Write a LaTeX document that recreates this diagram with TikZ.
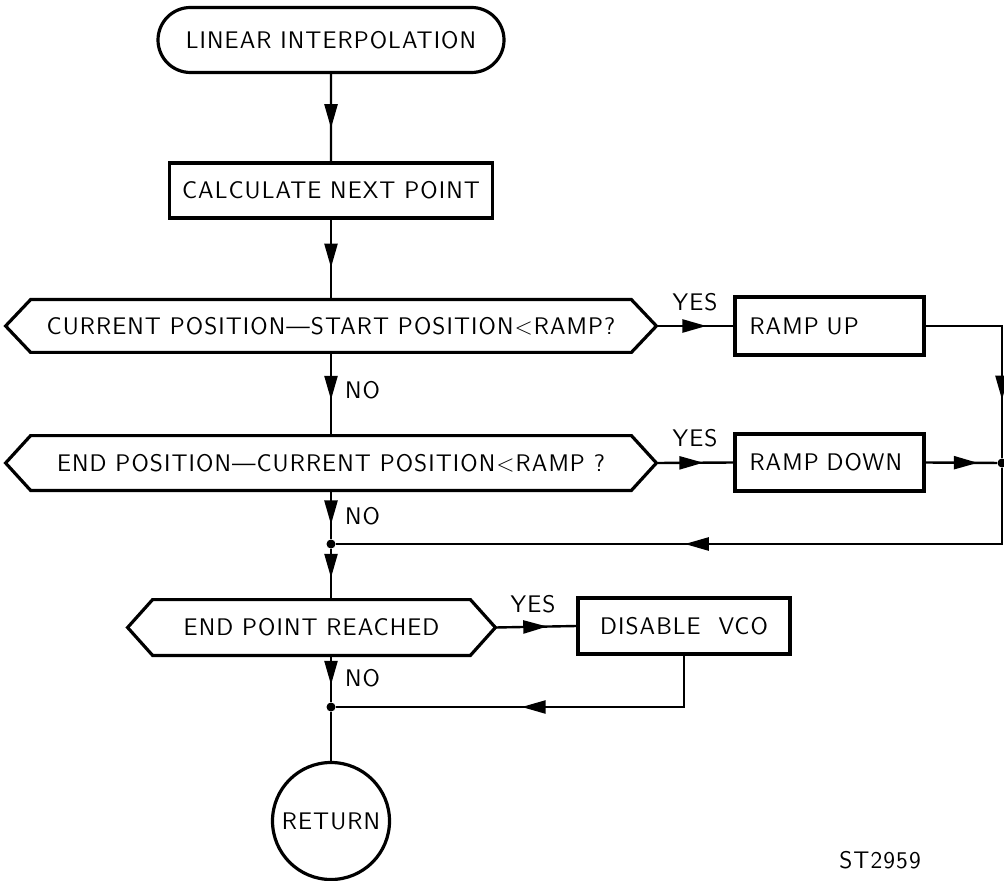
\documentclass[tikz,border=0pt]{standalone}
\usepackage{fontspec}
\newfontfamily\flowfont{Latin Modern Sans}[LetterSpace=4.5,Ligatures=TeX]
\usetikzlibrary{arrows.meta,decorations.markings,shapes.misc}
\tikzset{
  flow/.style={font=\flowfont\fontsize{12}{14}\selectfont},
  box/.style={flow,draw,line width=1.6pt,rectangle,inner sep=0pt},
  term/.style={box,rounded rectangle},
  hexa/.style={flow,rectangle,inner sep=0pt},
  conn/.style={line width=1.2pt},
  mid arrow/.style={postaction={decorate,decoration={markings,
      mark=at position #1 with {\arrow{Triangle[length=12pt,width=6.5pt]}}}}},
  mid arrow/.default=0.6,
  dot/.style={circle,fill,inner sep=0pt,minimum size=4.5pt}
}
\begin{document}
\begin{tikzpicture}[x=0.5pt,y=-0.5pt]
    \useasboundingbox (0,0) rectangle (1004,881);
    \node[term,minimum width=173pt,minimum height=32.5pt] (start) at (331,40) {LINEAR INTERPOLATION};
    \node[box,minimum width=161.5pt,minimum height=27.5pt] (calc) at (331,190.5) {CALCULATE NEXT POINT};
    \node[hexa,minimum width=325pt,minimum height=26pt] (dec1) at (331,326) {CURRENT POSITION---START POSITION<RAMP?};
    \node[hexa,minimum width=325pt,minimum height=27pt] (dec2) at (331,463) {END POSITION---CURRENT POSITION<RAMP ?};
    \node[hexa,minimum width=183.5pt,minimum height=27.5pt] (dec3) at (311.5,627.5) {END POINT REACHED};
    \node[box,minimum width=94.5pt,minimum height=29pt,text width=80pt,align=left] (rampup) at (829.5,326) {RAMP UP};
    \node[box,minimum width=94.5pt,minimum height=28.5pt,text width=80pt,align=left] (rampdown) at (829.5,462.5) {RAMP DOWN};
    \node[box,minimum width=106pt,minimum height=28pt] (vco) at (684,626) {DISABLE~~VCO};
    \node[box,circle,minimum size=58.5pt] (ret) at (331,821) {RETURN};
    \foreach \d in {dec1,dec2,dec3}
      \draw[line width=1.6pt,line join=miter] (\d.west) -- ([xshift=12.5pt]\d.north west) -- ([xshift=-12.5pt]\d.north east)
        -- (\d.east) -- ([xshift=-12.5pt]\d.south east) -- ([xshift=12.5pt]\d.south west) -- cycle;
    \node[dot] (j1) at (331,544) {};
    \node[dot] (j2) at (1002,463) {};
    \node[dot] (j3) at (331,707) {};
    \coordinate (ur) at (1002,326);
    \coordinate (lr) at (1002,544);
    \coordinate (vc) at (684,707);
    \draw[conn,mid arrow=0.62] (start) -- (calc);
    \draw[conn,mid arrow] (calc) -- (dec1);
    \draw[conn,mid arrow=0.57] (dec1) -- (dec2);
    \draw[conn,mid arrow=0.7] (dec2) -- (j1);
    \draw[conn,mid arrow=0.57] (j1) -- (j1 |- dec3.north);
    \draw[conn,mid arrow=0.63] (j3 |- dec3.south) -- (j3);
    \draw[conn] (j3) -- (ret);
    \draw[conn,mid arrow=0.65] (dec1.east) -- (rampup.west);
    \draw[conn,mid arrow=0.61] (dec2.east) -- (rampdown.west);
    \draw[conn,mid arrow=0.73] (rampdown.east) -- (j2);
    \draw[conn,mid arrow=0.64] (dec3.east) -- (vco.west);
    \draw[conn,mid arrow=0.72] (rampup.east) -- (ur) -- (j2);
    \draw[conn,mid arrow=0.53] (j2) -- (lr) -- (j1);
    \draw[conn,mid arrow=0.535] (vco.south) -- (vc) -- (j3);
    \node[flow,anchor=west] (no1) at (338,390) {NO};
    \node[flow,anchor=west] (no2) at (338,516) {NO};
    \node[flow,anchor=west] (no3) at (338,678) {NO};
    \node[flow] (yes1) at (695,302) {YES};
    \node[flow] (yes2) at (695,438) {YES};
    \node[flow] (yes3) at (533,604) {YES};
    \node[flow] (code) at (880,860) {ST2959};
\end{tikzpicture}
\end{document}
